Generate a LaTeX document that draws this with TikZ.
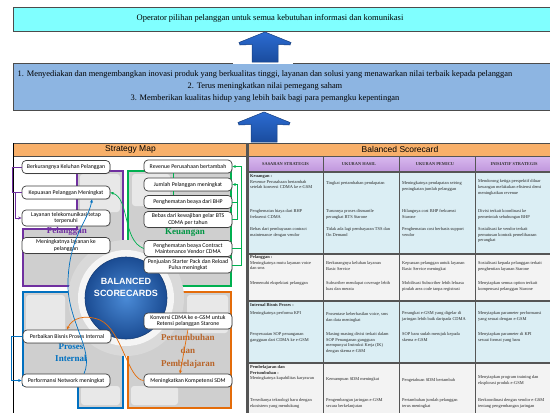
\documentclass[tikz,border=0pt]{standalone}
\usepackage{fontspec}
\setmainfont{Liberation Serif}
\newfontfamily\boxfont{Carlito}
\newfontfamily\headfont{Liberation Sans}
\usetikzlibrary{arrows.meta,shadows}

\definecolor{cyanbox}{HTML}{80FFFF}
\definecolor{bluebox}{HTML}{8DB5E2}
\definecolor{hdrorange}{HTML}{F8B06A}
\definecolor{colhdrtop}{HTML}{D8B8EE}
\definecolor{colhdrbot}{HTML}{BF95DC}
\definecolor{rowblue}{HTML}{DBEEF4}
\definecolor{rowwhite}{HTML}{F3F3F3}
\definecolor{gridgray}{HTML}{555555}
\definecolor{qpurple}{HTML}{7030A0}
\definecolor{qgreen}{HTML}{00B050}
\definecolor{qblue}{HTML}{0070C0}
\definecolor{qorange}{HTML}{E46C0A}
\definecolor{qbrown}{HTML}{B8652A}
\definecolor{qgray}{HTML}{CFCFCF}
\definecolor{qlight}{HTML}{E8E8E8}
\definecolor{ringgray}{HTML}{D9D9D9}
\definecolor{ballin}{HTML}{4A8AD6}
\definecolor{ballout}{HTML}{1B4C93}
\definecolor{arrowtop}{HTML}{2C6CD2}
\definecolor{arrowbot}{HTML}{1A4C9E}
\definecolor{arrowedge}{HTML}{153F80}

\tikzset{
  bigarrow/.pic={
    \fill[white] (-32,1) rectangle (28,31.5);
    \shadedraw[top color=arrowtop, bottom color=arrowbot, draw=arrowedge, line width=0.5pt]
      (0,0) -- (26,10.5) -- (25,13) -- (13,12.5) -- (13,30) -- (-13,30)
      -- (-13,12.5) -- (-25,13) -- (-26,10.5) -- cycle;
  }
}

\begin{document}
\begin{tikzpicture}[x=1pt,y=-1pt,
  cell/.style={anchor=north west, inner sep=0pt, align=left,
    font=\fontsize{4.4}{5.6}\selectfont, text=black!85},
  colhead/.style={inner sep=0pt, font=\fontsize{4.4}{5}\selectfont\bfseries, text=black!80},
  smbox/.style={draw=black!75, line width=0.7pt, fill=white, rounded corners=4pt,
    minimum width=88pt, inner sep=0.5pt, align=center,
    font=\boxfont\fontsize{5.8}{6.8}\selectfont,
    drop shadow={opacity=0.35,shadow xshift=0.7pt,shadow yshift=-0.7pt}},
  sline/.style={minimum height=13pt},
  dline/.style={minimum height=16pt},
  qlabel/.style={inner sep=0pt, align=center, font=\fontsize{9}{12}\selectfont\bfseries},
  hdr/.style={draw=black!70, line width=0.8pt, fill=hdrorange, minimum height=13pt,
    inner sep=0pt, font=\headfont\fontsize{8.5}{9}\selectfont},
  tip/.style={-{Stealth[length=3.5pt,width=3pt]}},
  pconn/.style={draw=qpurple, line width=0.7pt},
  gconn/.style={draw=qgreen, line width=0.7pt},
  bconn/.style={draw=qblue, line width=0.7pt},
  oconn/.style={draw=qorange, line width=0.7pt}
]
\useasboundingbox (0,0) rectangle (550,413);
\fill[white] (0,0) rectangle (550,413);

% ---------- vision and mission ----------
\node[draw=black!70, line width=1pt, fill=cyanbox, minimum width=540pt,
  minimum height=24pt, inner sep=0pt] (visionbox) at (283,19) {};
\node[font=\fontsize{8.5}{9}\selectfont] (visiontext) at (270,18.5)
  {Operator pilihan pelanggan untuk semua kebutuhan informasi dan komunikasi};

\node[draw=black!70, line width=1pt, fill=bluebox, minimum width=540pt,
  minimum height=47pt, inner sep=0pt] (missionbox) at (283,86.5) {};
\node[font=\fontsize{8.4}{12}\selectfont, align=center] (missiontext) at (265,86.5)
  {1. Menyediakan dan mengembangkan inovasi produk yang berkualitas tinggi, layanan dan solusi yang menawarkan nilai terbaik kepada pelanggan\\
   2. Terus meningkatkan nilai pemegang saham\\
   3. Memberikan kualitas hidup yang lebih baik bagi para pemangku kepentingan};

\pic at (265,32) {bigarrow};
\pic at (264,112) {bigarrow};

% ---------- panel headers ----------
\node[hdr, minimum width=235pt] (smhead) at (130.5,149.5) {Strategy Map};
\node[hdr, minimum width=304pt] (bshead) at (400,149.5) {Balanced Scorecard};

% ---------- balanced scorecard table ----------
\shade[top color=colhdrtop, bottom color=colhdrbot] (248,156.5) rectangle (552,172);
\fill[rowblue] (248,172) rectangle (552,254);
\fill[rowwhite] (248,254) rectangle (552,301);
\fill[rowblue] (248,301) rectangle (552,363);
\fill[rowwhite] (248,363) rectangle (552,414);
\draw[gridgray, line width=1.5pt]
  (248,156.5) -- (552,156.5) (248,172) -- (552,172) (248,254) -- (552,254)
  (248,301) -- (552,301) (248,363) -- (552,363);
\draw[gridgray, line width=1.6pt]
  (323.5,156.5) -- (323.5,414) (399.5,156.5) -- (399.5,414) (475.5,156.5) -- (475.5,414);
\draw[gridgray, line width=2.4pt] (247.5,143) -- (247.5,414);

\node[colhead] (ch1) at (285.5,164) {SASARAN STRATEGIS};
\node[colhead] (ch2) at (359,164) {UKURAN HASIL};
\node[colhead] (ch3) at (435,164) {UKURAN PEMICU};
\node[colhead] (ch4) at (514,164) {INISIATIF STRATEGIS};

% Keuangan
\node[cell] (k11) at (250,174.5) {\textbf{Keuangan :}\\Revenue Perusahaan bertambah\\setelah konversi CDMA ke e-GSM};
\node[cell] (k12) at (250,209.5) {Penghematan biaya dari BHP\\frekuensi CDMA};
\node[cell] (k13) at (250,227.5) {Bebas dari pembayaran contract\\maintenance dengan vendor};
\node[cell] (k21) at (326,181.5) {Tingkat pertambahan pendapatan};
\node[cell] (k22) at (326,209.5) {Turunnya proses dismantle\\perangkat BTS Starone};
\node[cell] (k23) at (326,227.5) {Tidak ada lagi pembayaran TSS dan\\On Demand};
\node[cell] (k31) at (402,181.5) {Meningkatnya pendapatan seiring\\peningkatan jumlah pelanggan};
\node[cell] (k32) at (402,209.5) {Hilangnya cost BHP frekuensi\\Starone};
\node[cell] (k33) at (402,227.5) {Penghematan cost berbasis support\\vendor};
\node[cell] (k41) at (478,179.5) {Mendorong ketiga perspektif diluar\\keuangan melakukan efisiensi demi\\meningkatkan revenue};
\node[cell] (k42) at (478,209.5) {Divisi terkait koordinasi ke\\pemerintah sehubungan BHP};
\node[cell] (k43) at (478,227.5) {Sosialisasi ke vendor terkait\\pemutusan kontrak pemeliharaan\\perangkat};

% Pelanggan
\node[cell] (p11) at (250,255.5) {\textbf{Pelanggan :}\\Meningkatnya mutu layanan voice\\dan sms};
\node[cell] (p12) at (250,281.5) {Memenuhi ekspektasi pelanggan};
\node[cell] (p21) at (326,261.5) {Berkurangnya keluhan layanan\\Basic Service};
\node[cell] (p22) at (326,281.5) {Subscriber mendapat coverage lebih\\luas dan merata};
\node[cell] (p31) at (402,261.5) {Kepuasan pelanggan untuk layanan\\Basic Service meningkat};
\node[cell] (p32) at (402,281.5) {Mobilisasi Subscriber lebih leluasa\\pindah area code tanpa registrasi};
\node[cell] (p41) at (478,261.5) {Sosialisasi kepada pelanggan terkait\\penghentian layanan Starone};
\node[cell] (p42) at (478,281.5) {Menyiapkan semua option terkait\\kompensasi pelanggan Starone};

% Internal Bisnis Proses
\node[cell] (i11) at (250,303.5) {\textbf{Internal Bisnis Proses :}};
\node[cell] (i12) at (250,311.5) {Meningkatnya performa KPI};
\node[cell] (i13) at (250,332.5) {Penyesuaian SOP penanganan\\gangguan dari CDMA ke e-GSM};
\node[cell] (i21) at (326,312.5) {Prosentase keberhasilan voice, sms\\dan data meningkat};
\node[cell] (i22) at (326,332.5) {Masing-masing divisi terkait dalam\\SOP Penanganan gangguan\\mempunyai Instruksi Kerja (IK)\\dengan skema e-GSM};
\node[cell] (i31) at (402,311.5) {Perangkat e-GSM yang digelar di\\jaringan lebih baik daripada CDMA};
\node[cell] (i32) at (402,332.5) {SOP baru sudah merujuk kepada\\skema e-GSM};
\node[cell] (i41) at (478,311.5) {Menyiapkan parameter performansi\\yang sesuai dengan e-GSM};
\node[cell] (i42) at (478,332.5) {Menyiapkan parameter di KPI\\sesuai format yang baru};

% Pembelajaran dan Pertumbuhan
\node[cell] (l11) at (250,365.5) {\textbf{Pembelajaran dan}\\\textbf{Pertumbuhan :}\\Meningkatnya kapabilitas karyawan};
\node[cell] (l12) at (250,398.5) {Tersedianya teknologi baru dengan\\ekosistem yang mendukung};
\node[cell] (l21) at (326,377.5) {Kemampuan SDM meningkat};
\node[cell] (l22) at (326,398.5) {Pengembangan jaringan e-GSM\\secara berkelanjutan};
\node[cell] (l31) at (402,378.5) {Pengetahuan SDM bertambah};
\node[cell] (l32) at (402,398.5) {Pertambahan jumlah pelanggan\\terus meningkat};
\node[cell] (l41) at (478,375.5) {Menyiapkan program training dan\\eksplorasi produk e-GSM};
\node[cell] (l42) at (478,398.5) {Berkoordinasi dengan vendor e-GSM\\tentang pengembangan jaringan};

% ---------- strategy map ----------
\draw[black, line width=1pt] (13.5,143) -- (13.5,414);

% quadrant backgrounds
\fill[qgray] (77,171) -- (123,171) -- (123,286) -- (23,286) -- (23,229) -- (77,229) -- cycle;
\fill[qgray] (128,171) -- (231,171) -- (231,286) -- (128,286) -- cycle;
\fill[qgray] (23,292) -- (123,292) -- (123,408) -- (78,408) -- (78,385) -- (23,385) -- cycle;
\fill[qgray] (128,292) -- (231,292) -- (231,408) -- (128,408) -- cycle;
\fill[qlight, rounded corners=3pt] (80,174) rectangle (120,212);
\fill[qlight, rounded corners=3pt] (132,174) rectangle (170,206);
\fill[qlight, rounded corners=3pt] (26,295) rectangle (65,333);
\fill[qlight, rounded corners=3pt] (81,386) rectangle (120,405);
\fill[qlight, rounded corners=3pt] (187,295) rectangle (228,333);
\fill[qlight, rounded corners=3pt] (131,386) rectangle (178,405);

% quadrant outlines
\draw[qpurple, line width=2pt] (77,171) -- (123,171) -- (123,286) -- (23,286) -- (23,229) -- (77,229) -- cycle;
\draw[qgreen, line width=2pt] (128,171) -- (231,171) -- (231,286) -- (128,286) -- cycle;
\draw[qblue, line width=2pt] (23,292) -- (123,292) -- (123,408) -- (78,408) -- (78,385) -- (23,385) -- cycle;
\draw[qorange, line width=2pt] (128,292) -- (231,292) -- (231,408) -- (128,408) -- cycle;

% central ring and globe
\fill[ringgray] (126,298) circle (58);
\fill[white!92!gray] (126,298) circle (48);
\shadedraw[inner color=ballin, outer color=ballout, draw=ballout!80!black, line width=0.6pt] (126,298) circle (41);
\node[font=\headfont\bfseries\fontsize{9}{12}\selectfont, text=white, align=center, inner sep=0pt]
  (globetext) at (126,287) {BALANCED\\SCORECARDS};

% perspective labels
\node[qlabel, text=qpurple] (lpel) at (67,231) {Pelanggan};
\node[qlabel, text=qgreen!85!black] (lkeu) at (185,233) {Keuangan};
\node[qlabel, text=qblue] (lpro) at (71,353) {Proses\\Internal};
\node[qlabel, text=qbrown, font=\fontsize{9}{13}\selectfont\bfseries] (lper) at (188,351) {Pertumbuhan\\dan\\Pembelajaran};

% objective boxes
\node[smbox, sline] (b1) at (66,167) {Berkurangnya Keluhan Pelanggan};
\node[smbox, sline] (b2) at (66,192.5) {Kepuasan Pelanggan Meningkat};
\node[smbox, dline] (b3) at (66,218) {Layanan telekomunikasi tetap\\terpenuhi};
\node[smbox, dline] (b4) at (66,245.5) {Meningkatnya layanan ke\\pelanggan};
\node[smbox, sline] (b5) at (67,336.5) {Perbaikan Bisnis Proses Internal};
\node[smbox, sline] (b6) at (66,380.5) {Performansi Network meningkat};
\node[smbox, sline] (b7) at (188,166.5) {Revenue Perusahaan bertambah};
\node[smbox, sline] (b8) at (188,184.5) {Jumlah Pelanggan meningkat};
\node[smbox, sline] (b9) at (188,202) {Penghematan beaya dari BHP};
\node[smbox, dline] (b10) at (188,219.5) {Bebas dari kewajiban gelar BTS\\CDMA per tahun};
\node[smbox, dline] (b11) at (188,248.5) {Penghematan beaya Contract\\Maintenance Vendor CDMA};
\node[smbox, dline] (b12) at (188,265) {Penjualan Starter Pack dan Reload\\Pulsa meningkat};
\node[smbox, dline] (b13) at (188,321) {Konversi CDMA ke e-GSM untuk\\Retensi pelanggan Starone};
\node[smbox, sline] (b14) at (188,380.5) {Meningkatkan Kompetensi SDM};

% links between objectives
\draw[pconn] (b1.west) -- ++(-9,0) |- (b2.west);
\draw[pconn, tip] (b2.west) -- ++(-6,0) |- (b3.west);

\draw[gconn, tip] (b12.east) -- ++(9,0) |- (b7.east);
\draw[gconn] (b11.east) -- ++(9,0);
\draw[gconn, tip] (b10.east) -- ++(5,0) |- (b8.east);
\draw[gconn] (b9.east) -- ++(5,0);
\draw[gconn] ([xshift=-15pt]b7.south) -- ([xshift=-15pt]b8.north);
\draw[gconn] ([xshift=-15pt]b8.south) -- ([xshift=-15pt]b9.north);
\draw[gconn, tip] (b11.west) .. controls (122,240) and (130,198) .. (b2.east);

\draw[bconn, tip] (b5.west) -- ++(-11,0) |- (b6.west);
\draw[bconn, tip] ([xshift=18pt]b6.north) .. controls (95,350) and (66,320) .. (68,280)
  .. controls (70,235) and (88,222) .. ([xshift=26pt]b2.south);

\draw[oconn, tip] (b14.west) .. controls (128,380) and (122,330) .. (100,320)
  .. controls (85,314) and (72,318) .. (b5.north);
\draw[oconn, tip] (b13.south) -- ([xshift=-8pt]b14.north);
\end{tikzpicture}
\end{document}
